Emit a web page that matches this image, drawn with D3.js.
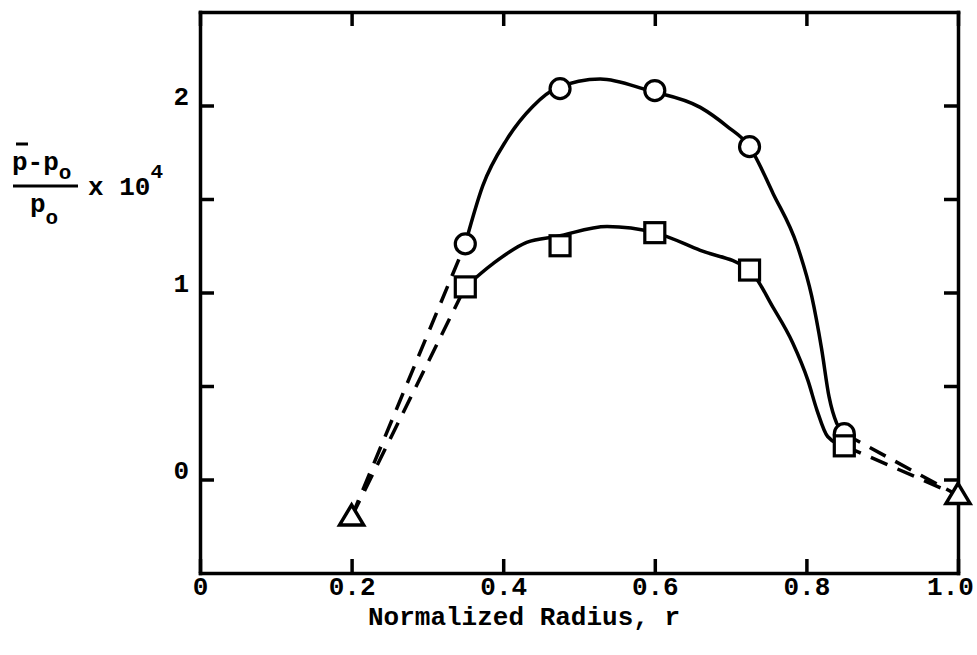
<!DOCTYPE html>
<html>
<head>
<meta charset="utf-8">
<script src="https://cdn.jsdelivr.net/npm/d3@7/dist/d3.min.js"></script>
<style>
  html, body { margin: 0; padding: 0; background: #fff; }
  svg { display: block; }
  text { font-family: "Liberation Mono", "DejaVu Sans Mono", monospace; font-weight: bold; fill: #000; }
</style>
</head>
<body>
<svg id="chart" width="977" height="655"></svg>
<script>
// Measured points (normalized radius vs. mean pressure rise x 10^4)
const radius = [0.35, 0.475, 0.6, 0.725, 0.85];
const circleValues = [1.26, 2.09, 2.08, 1.78, 0.245];
const squareValues = [1.03, 1.25, 1.32, 1.12, 0.18];
const triangleRadius = [0.2, 1.0];
const triangleValues = [-0.2, -0.085];

// Hand-faired curves through the circle and square series
const circleCurveR = [0.35, 0.373, 0.405, 0.439, 0.471, 0.528, 0.592, 0.66, 0.695, 0.725, 0.756, 0.788, 0.807, 0.82, 0.83, 0.84, 0.85];
const circleCurveV = [1.26, 1.57, 1.82, 1.995, 2.094, 2.142, 2.08, 1.99, 1.89, 1.78, 1.53, 1.25, 0.98, 0.70, 0.44, 0.30, 0.245];
const squareCurveR = [0.35, 0.387, 0.431, 0.471, 0.537, 0.6, 0.66, 0.725, 0.756, 0.782, 0.802, 0.814, 0.828, 0.85];
const squareCurveV = [1.03, 1.156, 1.268, 1.30, 1.353, 1.32, 1.225, 1.12, 0.92, 0.73, 0.53, 0.37, 0.23, 0.18];

// Axis ticks
const xTicks = [0, 0.2, 0.4, 0.6, 0.8, 1.0];
const xTickLabels = ["0", "0.2", "0.4", "0.6", "0.8", "1.0"];
const yTicks = [0, 0.5, 1, 1.5, 2];
const yTickLabels = ["0", "", "1", "", "2"];

const svg = d3.select("#chart");
const x = d3.scaleLinear().domain([0, 1]).range([200, 958]);
const y = d3.scaleLinear().domain([-0.5, 2.5]).range([573, 12]);

const FONT = 26;
const TICK = 14;

// Frame with inward ticks on all four sides
const axBottom = svg.append("g").attr("transform", `translate(0,${y(-0.5)})`)
  .call(d3.axisBottom(x).tickValues(xTicks).tickSizeInner(-TICK).tickSizeOuter(0)
    .tickFormat((d, i) => xTickLabels[i]));
const axTop = svg.append("g").attr("transform", `translate(0,${y(2.5)})`)
  .call(d3.axisTop(x).tickValues(xTicks).tickSizeInner(-TICK).tickSizeOuter(0).tickFormat(""));
const axLeft = svg.append("g").attr("transform", `translate(${x(0)},0)`)
  .call(d3.axisLeft(y).tickValues(yTicks).tickSizeInner(-TICK).tickSizeOuter(0)
    .tickFormat((d, i) => yTickLabels[i]));
const axRight = svg.append("g").attr("transform", `translate(${x(1)},0)`)
  .call(d3.axisRight(y).tickValues(yTicks).tickSizeInner(-TICK).tickSizeOuter(0).tickFormat(""));

[axBottom, axTop, axLeft, axRight].forEach(g => {
  g.select(".domain").attr("stroke", "#000").attr("stroke-width", 3.5).attr("stroke-linecap", "square");
  g.selectAll(".tick line").attr("stroke", "#000").attr("stroke-width", 3.5);
  g.attr("font-family", null).attr("font-size", null);
});
axBottom.selectAll(".tick text")
  .attr("y", 22).attr("dy", null)
  .attr("x", d => d === 1 ? -8 : 0)
  .style("font-size", FONT + "px");
axLeft.selectAll(".tick text")
  .attr("x", -11).attr("dy", "-0.05em")
  .style("font-size", FONT + "px");

// Curves
const line = d3.line().x(d => x(d[0])).y(d => y(d[1])).curve(d3.curveMonotoneX);
const lineStraight = d3.line().x(d => x(d[0])).y(d => y(d[1]));
const plot = svg.append("g");

const circleCurve = d3.zip(circleCurveR, circleCurveV);
const squareCurve = d3.zip(squareCurveR, squareCurveV);
plot.append("path").attr("d", line(circleCurve))
  .attr("fill", "none").attr("stroke", "#000").attr("stroke-width", 3.5);
plot.append("path").attr("d", line(squareCurve))
  .attr("fill", "none").attr("stroke", "#000").attr("stroke-width", 3.5);

// Dashed extensions to the triangle points
const tri0 = [triangleRadius[0], triangleValues[0]];
const tri1 = [triangleRadius[1], triangleValues[1]];
const dashed = [
  [tri0, [radius[0], circleValues[0]]],
  [tri0, [radius[0], squareValues[0]]],
  [[radius[4], circleValues[4]], tri1],
  [[radius[4], squareValues[4]], tri1]
];
plot.selectAll("path.dash").data(dashed).join("path").attr("class", "dash")
  .attr("d", d => lineStraight(d))
  .attr("fill", "none").attr("stroke", "#000").attr("stroke-width", 3.5)
  .attr("stroke-dasharray", "18,11");

// Markers
const pts = plot.append("g");
pts.selectAll("circle").data(d3.zip(radius, circleValues)).join("circle")
  .attr("cx", d => x(d[0])).attr("cy", d => y(d[1])).attr("r", 10)
  .attr("fill", "#fff").attr("stroke", "#000").attr("stroke-width", 3.2);
pts.selectAll("rect").data(d3.zip(radius, squareValues)).join("rect")
  .attr("x", d => x(d[0]) - 10).attr("y", d => y(d[1]) - 10)
  .attr("width", 20).attr("height", 20)
  .attr("fill", "#fff").attr("stroke", "#000").attr("stroke-width", 3.2);
pts.selectAll("path.tri").data(d3.zip(triangleRadius, triangleValues)).join("path").attr("class", "tri")
  .attr("d", d => {
    const cx = x(d[0]), cy = y(d[1]);
    return `M${cx},${cy - 12}L${cx + 12},${cy + 8}L${cx - 12},${cy + 8}Z`;
  })
  .attr("fill", "#fff").attr("stroke", "#000").attr("stroke-width", 3.5).attr("stroke-linejoin", "miter");

// X axis title
svg.append("text").attr("x", 368).attr("y", 625).style("font-size", FONT + "px")
  .text("Normalized Radius, r");

// Y axis title: (p̄ - p_o) / p_o x 10^4
const yl = svg.append("g");
const num = yl.append("text").attr("x", 12).attr("y", 170).style("font-size", FONT + "px");
num.append("tspan").text("p-p");
num.append("tspan").attr("dy", 9).style("font-size", "21px").text("o");
yl.append("line").attr("x1", 16).attr("x2", 28).attr("y1", 144).attr("y2", 144)
  .attr("stroke", "#000").attr("stroke-width", 3);
yl.append("line").attr("x1", 13).attr("x2", 78).attr("y1", 186).attr("y2", 186)
  .attr("stroke", "#000").attr("stroke-width", 3);
const den = yl.append("text").attr("x", 30).attr("y", 212).style("font-size", FONT + "px");
den.append("tspan").text("p");
den.append("tspan").attr("dy", 12).style("font-size", "21px").text("o");
const mult = yl.append("text").attr("x", 88).attr("y", 195).style("font-size", FONT + "px");
mult.append("tspan").text("x 10");
mult.append("tspan").attr("dy", -17).style("font-size", "21px").text("4");
</script>
</body>
</html>
